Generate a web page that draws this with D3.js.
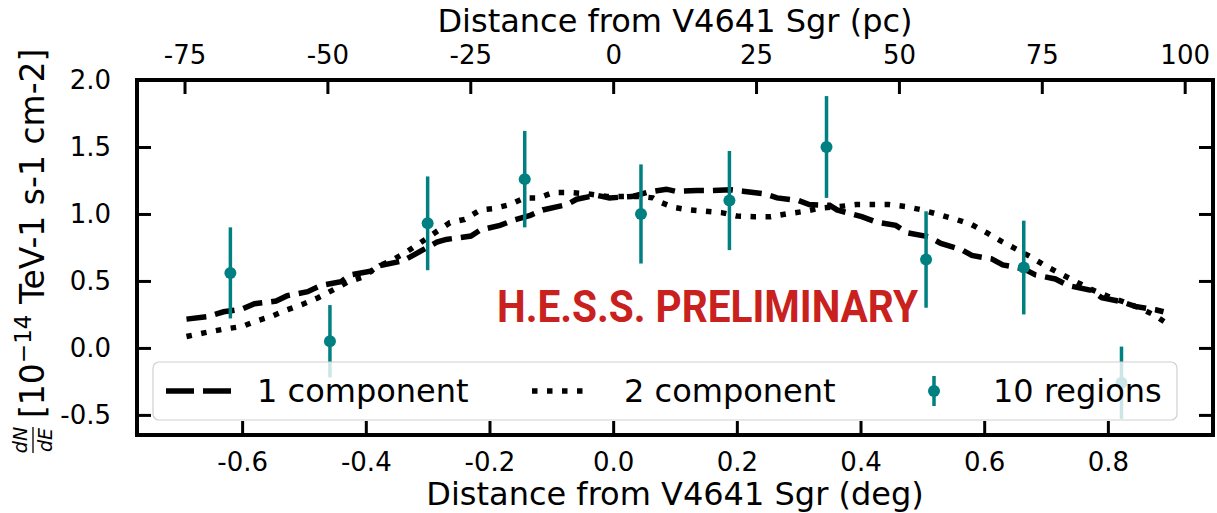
<!DOCTYPE html>
<html>
<head>
<meta charset="utf-8">
<script src="https://cdn.jsdelivr.net/npm/d3@7"></script>
<style>
  html, body { margin: 0; padding: 0; background: #fff; }
  svg { display: block; }
  text { font-family: "DejaVu Sans", sans-serif; fill: #000; }
</style>
</head>
<body>
<svg id="chart" width="1217" height="513"></svg>
<script>
// Flux profile along the distance from V4641 Sgr

// Measured regions: position (deg), flux and symmetric error
const regionX   = [-0.619, -0.458, -0.300, -0.143, 0.045, 0.188, 0.345, 0.506, 0.664, 0.822];
const regionY   = [0.56, 0.05, 0.93, 1.26, 1.00, 1.10, 1.50, 0.66, 0.60, -0.26];
const regionErr = [0.34, 0.27, 0.35, 0.36, 0.37, 0.37, 0.38, 0.36, 0.35, 0.27];

// One-component model profile
const oneCompX = [-0.69, -0.655, -0.63, -0.60, -0.58, -0.545, -0.527, -0.494, -0.473, -0.44,
                  -0.425, -0.39, -0.377, -0.34, -0.32, -0.285, -0.27, -0.23, -0.215, -0.183,
                  -0.16, -0.134, -0.114, -0.075, -0.059, -0.027, -0.006, 0.03, 0.054, 0.086,
                  0.10, 0.135, 0.155, 0.19, 0.21, 0.245, 0.265, 0.30, 0.317, 0.35,
                  0.362, 0.402, 0.425, 0.457, 0.475, 0.51, 0.53, 0.565, 0.58, 0.612,
                  0.63, 0.664, 0.683, 0.715, 0.736, 0.773, 0.79, 0.822, 0.844, 0.877, 0.89];
const oneCompY = [0.215, 0.235, 0.27, 0.29, 0.33, 0.35, 0.39, 0.42, 0.465, 0.495,
                  0.545, 0.575, 0.615, 0.65, 0.70, 0.79, 0.81, 0.835, 0.88, 0.915,
                  0.955, 0.99, 1.03, 1.07, 1.11, 1.14, 1.12, 1.13, 1.16, 1.185,
                  1.17, 1.175, 1.175, 1.18, 1.17, 1.15, 1.12, 1.10, 1.07, 1.065,
                  1.03, 0.98, 0.94, 0.915, 0.86, 0.83, 0.78, 0.73, 0.69, 0.665,
                  0.62, 0.59, 0.545, 0.515, 0.465, 0.43, 0.375, 0.345, 0.31, 0.285, 0.27];

// Two-component model profile
const twoCompX = [-0.69, -0.66, -0.63, -0.60, -0.578, -0.553, -0.527, -0.50, -0.477, -0.45,
                  -0.428, -0.404, -0.382, -0.355, -0.333, -0.307, -0.285, -0.264, -0.24, -0.215,
                  -0.194, -0.167, -0.143, -0.12, -0.097, -0.07, -0.04, -0.01, 0.02, 0.045,
                  0.064, 0.075, 0.097, 0.123, 0.15, 0.175, 0.20, 0.228, 0.255, 0.28,
                  0.31, 0.336, 0.365, 0.393, 0.42, 0.446, 0.473, 0.50, 0.527, 0.554,
                  0.58, 0.604, 0.628, 0.653, 0.677, 0.70, 0.725, 0.75, 0.774, 0.80,
                  0.825, 0.85, 0.873, 0.895];
const twoCompY = [0.085, 0.114, 0.14, 0.16, 0.20, 0.235, 0.285, 0.33, 0.375, 0.44,
                  0.495, 0.53, 0.605, 0.66, 0.72, 0.80, 0.87, 0.935, 0.96, 1.03,
                  1.04, 1.07, 1.12, 1.12, 1.16, 1.16, 1.15, 1.13, 1.13, 1.13,
                  1.12, 1.09, 1.05, 1.03, 1.02, 1.01, 0.985, 0.98, 0.98, 1.00,
                  1.02, 1.045, 1.055, 1.07, 1.07, 1.07, 1.055, 1.03, 0.995, 0.96,
                  0.92, 0.86, 0.795, 0.735, 0.675, 0.61, 0.55, 0.49, 0.435, 0.385,
                  0.345, 0.30, 0.25, 0.185];

// Axis ticks
const degTicks  = [-0.6, -0.4, -0.2, 0.0, 0.2, 0.4, 0.6, 0.8];
const pcTicks   = [-75, -50, -25, 0, 25, 50, 75, 100];
const fluxTicks = [-0.5, 0.0, 0.5, 1.0, 1.5, 2.0];
const pcPerDeg  = 108.2;   // ~6.2 kpc distance

const legendLabels = ["1 component", "2 component", "10 regions"];

const teal = "#008080";
const svg = d3.select("#chart");

const plot = { left: 137, right: 1213, top: 80, bottom: 435 };
const x = d3.scaleLinear().domain([-0.77, 0.97]).range([plot.left, plot.right]);
const xpc = d3.scaleLinear().domain([-0.77 * pcPerDeg, 0.97 * pcPerDeg]).range([plot.left, plot.right]);
const y = d3.scaleLinear().domain([-0.65, 2.0]).range([plot.bottom, plot.top]);

const tickLen = 14, tickW = 3;
const fmt1 = d3.format(".1f");
const fmtTick = v => fmt1(v).replace("−", "-");

// Model curves
const line = d3.line().x(d => x(d[0])).y(d => y(d[1]));
const oneComp = oneCompX.map((v, i) => [v, oneCompY[i]]);
const twoComp = twoCompX.map((v, i) => [v, twoCompY[i]]);

svg.append("path").datum(oneComp).attr("d", line)
  .attr("fill", "none").attr("stroke", "#000").attr("stroke-width", 5.5)
  .attr("stroke-dasharray", "20,9");
svg.append("path").datum(twoComp).attr("d", line)
  .attr("fill", "none").attr("stroke", "#000").attr("stroke-width", 5.5)
  .attr("stroke-dasharray", "5.5,9.5");

// Region measurements with error bars
const regions = regionX.map((v, i) => ({ x: v, y: regionY[i], e: regionErr[i] }));
const eb = svg.append("g");
eb.selectAll("line").data(regions).join("line")
  .attr("x1", d => x(d.x)).attr("x2", d => x(d.x))
  .attr("y1", d => y(d.y - d.e)).attr("y2", d => y(d.y + d.e))
  .attr("stroke", teal).attr("stroke-width", 3.5);
eb.selectAll("circle").data(regions).join("circle")
  .attr("cx", d => x(d.x)).attr("cy", d => y(d.y)).attr("r", 6)
  .attr("fill", teal);

// Preliminary mark
svg.append("text")
  .attr("x", 497).attr("y", 322)
  .attr("textLength", 421).attr("lengthAdjust", "spacingAndGlyphs")
  .style("font-family", "'Liberation Sans Narrow', 'Roboto', sans-serif")
  .style("font-weight", "bold").style("font-size", "44px")
  .style("fill", "#c9211e")
  .text("H.E.S.S. PRELIMINARY");

// Legend
const lg = svg.append("g");
lg.append("rect").attr("x", 153).attr("y", 362).attr("width", 1024).attr("height", 58)
  .attr("rx", 6).attr("fill", "#fff").attr("fill-opacity", 0.8)
  .attr("stroke", "#d0d0d0").attr("stroke-width", 1.2);
const ly = 391;
lg.append("line").attr("x1", 166).attr("x2", 231).attr("y1", ly).attr("y2", ly)
  .attr("stroke", "#000").attr("stroke-width", 5.5).attr("stroke-dasharray", "28,9");
lg.append("line").attr("x1", 532).attr("x2", 590).attr("y1", ly).attr("y2", ly)
  .attr("stroke", "#000").attr("stroke-width", 5.5).attr("stroke-dasharray", "5.5,9.5");
lg.append("line").attr("x1", 934).attr("x2", 934).attr("y1", ly - 15).attr("y2", ly + 15)
  .attr("stroke", teal).attr("stroke-width", 3.5);
lg.append("circle").attr("cx", 934).attr("cy", ly).attr("r", 6).attr("fill", teal);
[[257, legendLabels[0]], [624, legendLabels[1]], [993, legendLabels[2]]].forEach(([lx, t]) => {
  lg.append("text").attr("x", lx).attr("y", ly + 11).style("font-size", "32px").text(t);
});

// Frame
svg.append("rect")
  .attr("x", plot.left).attr("y", plot.top)
  .attr("width", plot.right - plot.left).attr("height", plot.bottom - plot.top)
  .attr("fill", "none").attr("stroke", "#000").attr("stroke-width", 4);

// Bottom axis (deg), inward ticks
const axB = svg.append("g").attr("transform", `translate(0,${plot.bottom})`)
  .call(d3.axisBottom(x).tickValues(degTicks).tickSizeInner(-tickLen).tickSizeOuter(0)
    .tickPadding(18).tickFormat(fmtTick));
// Top axis (pc)
const axT = svg.append("g").attr("transform", `translate(0,${plot.top})`)
  .call(d3.axisTop(xpc).tickValues(pcTicks).tickSizeInner(-tickLen).tickSizeOuter(0)
    .tickPadding(16).tickFormat(d3.format("d")));
// Left axis
const axL = svg.append("g").attr("transform", `translate(${plot.left},0)`)
  .call(d3.axisLeft(y).tickValues(fluxTicks).tickSizeInner(-tickLen).tickSizeOuter(0)
    .tickPadding(tickLen + 12).tickFormat(fmtTick));
// Right axis, ticks only
const axR = svg.append("g").attr("transform", `translate(${plot.right},0)`)
  .call(d3.axisRight(y).tickValues(fluxTicks).tickSizeInner(-tickLen).tickSizeOuter(0)
    .tickFormat(() => ""));

[axB, axT, axL, axR].forEach(a => {
  a.select(".domain").remove();
  a.selectAll(".tick line").attr("stroke", "#000").attr("stroke-width", tickW);
  a.selectAll(".tick text").style("font-family", "'DejaVu Sans', sans-serif")
    .style("font-size", "26px").attr("fill", "#000");
});
axT.selectAll(".tick text").text(d => String(d).replace("−", "-"));

// Axis titles
svg.append("text").attr("x", (plot.left + plot.right) / 2).attr("y", 505)
  .attr("text-anchor", "middle").style("font-size", "32px")
  .text("Distance from V4641 Sgr (deg)");
svg.append("text").attr("x", (plot.left + plot.right) / 2).attr("y", 32)
  .attr("text-anchor", "middle").style("font-size", "32px")
  .text("Distance from V4641 Sgr (pc)");

// Y title: dN/dE fraction followed by units, rotated
const yt = svg.append("g").attr("transform", "rotate(-90)");
const fracX = -440;
yt.append("text").attr("x", fracX).attr("y", 27).attr("text-anchor", "middle")
  .style("font-size", "19px").style("font-style", "italic").text("dN");
yt.append("line").attr("x1", fracX - 13).attr("x2", fracX + 13).attr("y1", 33).attr("y2", 33)
  .attr("stroke", "#000").attr("stroke-width", 1.3);
yt.append("text").attr("x", fracX).attr("y", 52).attr("text-anchor", "middle")
  .style("font-size", "19px").style("font-style", "italic").text("dE");
const ytt = yt.append("text").attr("x", -418).attr("y", 44).style("font-size", "33px");
ytt.append("tspan").text("[10");
ytt.append("tspan").attr("dy", -13).style("font-size", "23px").text("−14");
ytt.append("tspan").attr("dy", 13).text(" TeV-1 s-1 cm-2]");
</script>
</body>
</html>
